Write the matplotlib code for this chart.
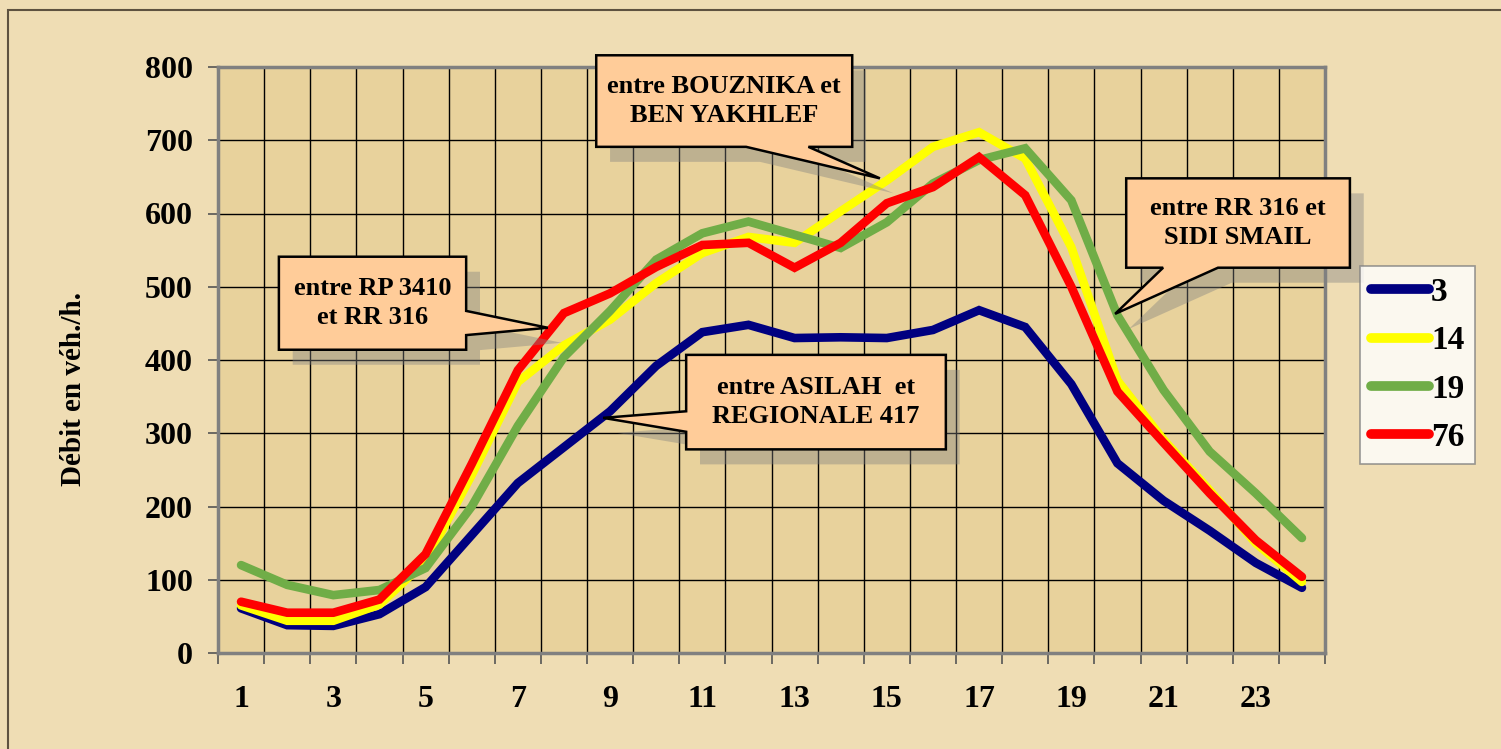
import numpy as np
import matplotlib.pyplot as plt
from matplotlib.patches import Polygon, Rectangle
from matplotlib.ticker import MultipleLocator, FixedLocator

plt.rcParams['font.family'] = ['Liberation Serif', 'DejaVu Serif']
plt.rcParams['font.weight'] = 'bold'

## Données (débit horaire par station)
heures = np.arange(1, 25)
labels = ['3', '14', '19', '76']
s3 = [61, 38, 37, 53, 90, 161, 232, 281, 330, 392, 438, 448, 430, 431,
      430, 441, 468, 445, 367, 259, 208, 167, 123, 89]
s14 = [65, 44, 44, 66, 125, 243, 370, 420, 455, 505, 546, 568, 560, 603,
       645, 691, 711, 675, 554, 372, 291, 222, 150, 97]
s19 = [120, 93, 79, 86, 116, 200, 310, 404, 467, 537, 573, 589, 571, 553,
       588, 641, 673, 689, 618, 461, 359, 275, 218, 157]
s76 = [70, 55, 55, 73, 135, 258, 386, 464, 491, 527, 557, 560, 526, 560,
       614, 636, 677, 625, 500, 357, 287, 218, 154, 104]
series = [s3, s14, s19, s76]
couleurs = ['#000080', '#FFFF00', '#70AD47', '#FF0000']

# Bulles : texte, rectangle (x0, x1, y0, y1), côté du pointeur, base, pointe
bulles = [
    ("entre BOUZNIKA et\nBEN YAKHLEF", (8.70, 14.25, 691, 816), 'bas', (11.95, 13.30), (14.85, 648)),
    ("entre RP 3410\net RR 316", (1.82, 5.88, 414, 541), 'droite', (467, 434), (7.65, 444)),
    ("entre ASILAH  et\nREGIONALE 417", (10.65, 16.28, 278, 407), 'gauche', (330, 302), (8.85, 321)),
    ("entre RR 316 et\nSIDI SMAIL", (20.19, 25.04, 526, 648), 'bas', (20.99, 22.18), (19.95, 463)),
]

W, H = 1501, 749
fig = plt.figure(figsize=(W / 100, H / 100), dpi=100, facecolor='#EFDDB4')
ax = fig.add_axes([218 / W, 1 - 653 / H, (1325 - 218) / W, (653 - 67) / H])
ax.set_facecolor('#E8D29C')

# cadre de la figure
fig.patches.append(Rectangle((8 / W, -0.05), 1.2, 1.05 - 10 / H, transform=fig.transFigure,
                             fill=False, edgecolor='#5E5240', linewidth=1.5))

for s, c, lab in zip(series, couleurs, labels):
    ax.plot(heures, s, color=c, linewidth=6.2, label=lab,
            solid_capstyle='round', solid_joinstyle='miter', zorder=3)

ax.set_xlim(0.5, 24.5)
ax.set_ylim(0, 800)
ax.xaxis.set_major_locator(FixedLocator(np.arange(1, 25, 2)))
ax.xaxis.set_minor_locator(FixedLocator(np.arange(0.5, 25, 1)))
ax.yaxis.set_major_locator(MultipleLocator(100))
ax.tick_params(axis='x', which='major', length=0, pad=23, labelsize=23)
ax.tick_params(axis='x', which='minor', length=8, width=1.2, color='#555555')
ax.tick_params(axis='y', which='major', length=7, width=1.2, color='#555555', pad=11, labelsize=23)
ax.grid(True, axis='x', which='minor', color='black', linewidth=1.0, zorder=1)
ax.grid(True, axis='y', which='major', color='black', linewidth=1.0, zorder=1)
ax.set_axisbelow(True)
for sp in ax.spines.values():
    sp.set_color('#808080')
    sp.set_linewidth(2.5)

ax.set_ylabel('Débit en véh./h.', fontsize=21, fontweight='bold')
ax.yaxis.set_label_coords(-0.118, 0.45)

# bulles d'annotation
dx, dy = 0.30, -20.5
for texte, (x0, x1, y0, y1), cote, base, pointe in bulles:
    if cote == 'bas':
        pts = [(x0, y1), (x1, y1), (x1, y0), (base[1], y0), pointe, (base[0], y0), (x0, y0)]
    elif cote == 'droite':
        pts = [(x0, y1), (x1, y1), (x1, base[0]), pointe, (x1, base[1]), (x1, y0), (x0, y0)]
    else:
        pts = [(x0, y1), (x1, y1), (x1, y0), (x0, y0), (x0, base[1]), pointe, (x0, base[0])]
    ombre = [(px + dx, py + dy) for px, py in pts]
    ax.add_patch(Polygon(ombre, closed=True, facecolor=(0.5, 0.5, 0.5, 0.4),
                         edgecolor='none', zorder=4, clip_on=False))
    ax.add_patch(Polygon(pts, closed=True, facecolor='#FFCC99', edgecolor='black',
                         linewidth=1.8, joinstyle='miter', zorder=5, clip_on=False))
    ax.text((x0 + x1) / 2, (y0 + y1) / 2, texte, ha='center', va='center',
            fontsize=19, fontweight='bold', linespacing=1.35, zorder=6)

leg = fig.legend(loc='upper left', bbox_to_anchor=(1360 / W, 1 - 266 / H),
                 fontsize=24, frameon=True, fancybox=False, handlelength=1.75,
                 handletextpad=0.05, labelspacing=0.52, borderpad=0.33, borderaxespad=0)
leg.get_frame().set_edgecolor('#808080')
leg.get_frame().set_linewidth(1.2)
leg.get_frame().set_facecolor('white')
for t in leg.get_texts():
    t.set_fontweight('bold')
for h in leg.legend_handles:
    h.set_linewidth(7)

fig.savefig('out.png', dpi=100, facecolor=fig.get_facecolor())
